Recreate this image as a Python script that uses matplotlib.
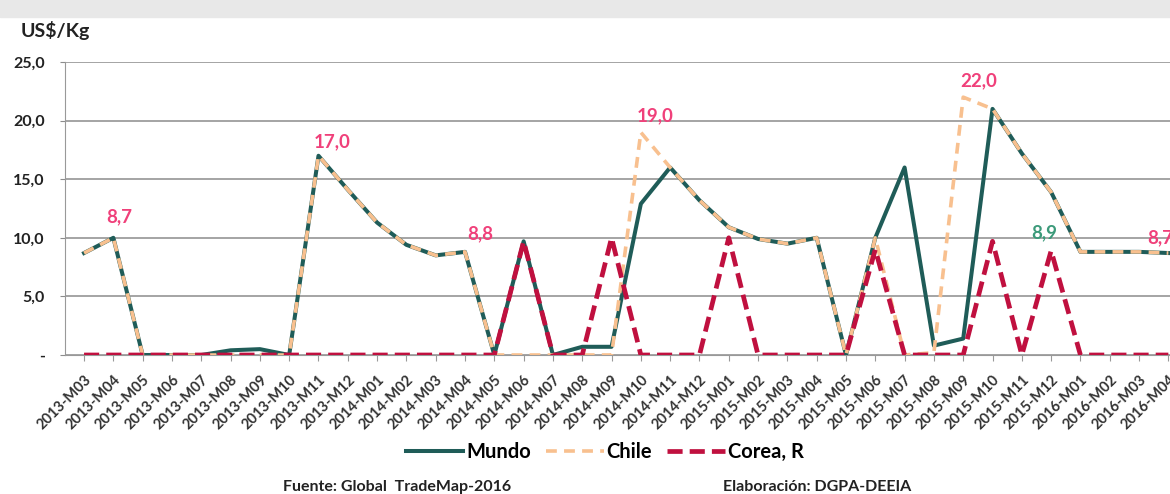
import matplotlib
matplotlib.use("Agg")
import matplotlib.pyplot as plt
from matplotlib.ticker import FuncFormatter
from matplotlib.patches import Rectangle

plt.rcParams['font.family'] = ['Lato', 'DejaVu Sans']

meses = ["2013-M03", "2013-M04", "2013-M05", "2013-M06", "2013-M07", "2013-M08",
         "2013-M09", "2013-M10", "2013-M11", "2013-M12",
         "2014-M01", "2014-M02", "2014-M03", "2014-M04", "2014-M05", "2014-M06",
         "2014-M07", "2014-M08", "2014-M09", "2014-M10", "2014-M11", "2014-M12",
         "2015-M01", "2015-M02", "2015-M03", "2015-M04", "2015-M05", "2015-M06",
         "2015-M07", "2015-M08", "2015-M09", "2015-M10", "2015-M11", "2015-M12",
         "2016-M01", "2016-M02", "2016-M03", "2016-M04"]

mundo = [8.7, 10.0, 0, 0, 0, 0.4, 0.5, 0, 17.0, 14.1, 11.3, 9.4, 8.5, 8.8,
         0, 9.7, 0, 0.7, 0.7, 12.9, 16.0, 13.2, 10.9, 9.9, 9.5, 10.0,
         0, 10.0, 16.0, 0.8, 1.4, 21.0, 17.2, 13.9, 8.8, 8.8, 8.8, 8.7]
chile = [8.7, 10.0, 0, 0, 0, 0, 0, 0, 17.0, 14.1, 11.3, 9.4, 8.5, 8.8,
         0, 0, 0, 0, 0, 19.0, 16.0, 13.2, 10.9, 9.9, 9.5, 10.0,
         0, 10.0, 0, 0.2, 22.0, 21.0, 17.2, 13.9, 8.8, 8.8, 8.8, 8.7]
corea = [0, 0, 0, 0, 0, 0, 0, 0, 0, 0, 0, 0, 0, 0,
         0, 9.7, 0, 0, 10.0, 0, 0, 0, 10.0, 0, 0, 0,
         0, 9.0, 0, 0, 0, 9.7, 0, 8.9, 0, 0, 0, 0]

# etiquetas de datos: (serie, indice, texto)
etiquetas = [("chile", 1, "8,7"), ("chile", 8, "17,0"), ("chile", 13, "8,8"),
             ("chile", 19, "19,0"), ("chile", 30, "22,0"), ("corea", 33, "8,9"),
             ("chile", 37, "8,7")]

c_mundo = "#1f5c58"
c_chile = "#f8c08f"
c_corea = "#c0103f"
c_label = "#f0407a"

fig = plt.figure(figsize=(11.7, 4.94), dpi=100)
fig.patches.append(Rectangle((0, 0.965), 1, 0.035, transform=fig.transFigure,
                             color="#e8e8e8", zorder=0))
ax = fig.add_axes([65 / 1170, 139 / 494, 1118 / 1170, 293 / 494])

x = list(range(len(meses)))
ax.plot(x, mundo, color=c_mundo, lw=2.9, label="Mundo", zorder=3)
ax.plot(x, chile, color=c_chile, lw=2.6, dashes=(3, 2), label="Chile", zorder=4)
ax.plot(x, corea, color=c_corea, lw=3.4, dashes=(3.2, 1.5), label="Corea, R", zorder=5)

series = {"mundo": mundo, "chile": chile, "corea": corea}
offsets = {1: (4, 15), 8: (9.5, 10), 13: (11, 13), 19: (10, 12),
           30: (11, 11.5), 33: (-5, 13), 37: (-6, 11)}
for serie, i, txt in etiquetas:
    color = "#3c9a7a" if serie == "corea" else c_label
    ax.annotate(txt, (i, series[serie][i]), xytext=offsets[i],
                textcoords="offset points", ha="center", va="center",
                fontsize=13.5, fontweight="bold", color=color, zorder=6,
                annotation_clip=False)

ax.set_xlim(-0.65, 37.5)
ax.set_ylim(0, 25)
ax.set_yticks([0, 5, 10, 15, 20, 25])
ax.yaxis.set_major_formatter(FuncFormatter(
    lambda v, p: "-" if v == 0 else f"{v:.1f}".replace(".", ",")))
ax.grid(axis="y", color="#8c8c8c", lw=1.1)
ax.set_axisbelow(True)
ax.set_xticks(x)
ax.set_xticklabels(meses, rotation=45, ha="right", va="top",
                   rotation_mode="anchor", fontsize=10.5, fontweight="bold",
                   color="#333333")
ax.tick_params(axis="x", length=4, color="#999999", pad=9)
ax.tick_params(axis="y", length=3.6, color="#8c8c8c", labelsize=11.5,
               labelcolor="#222222", pad=11)
for lab in ax.get_yticklabels():
    lab.set_fontweight("bold")
for s in ["top", "right"]:
    ax.spines[s].set_visible(False)
ax.spines["left"].set_color("#999999")
ax.spines["bottom"].set_color("#999999")

fig.text(21 / 1170, 1 - 30 / 494, "US$/Kg", fontsize=14, fontweight="bold",
         color="#222222", va="center")

leg = fig.legend(loc="center", bbox_to_anchor=(0.517, 0.085), ncol=3,
                 frameon=False, handlelength=2.85, columnspacing=0.75,
                 handletextpad=0.15, prop={"size": 14.5, "weight": "bold"})

fig.text(283 / 1170, 7 / 494, "Fuente: Global  TradeMap-2016", fontsize=11.5,
         fontweight="bold", color="#222222", va="center")
fig.text(723 / 1170, 7 / 494, "Elaboración: DGPA-DEEIA", fontsize=11.5,
         fontweight="bold", color="#222222", va="center")

fig.savefig("out.png", dpi=100)
